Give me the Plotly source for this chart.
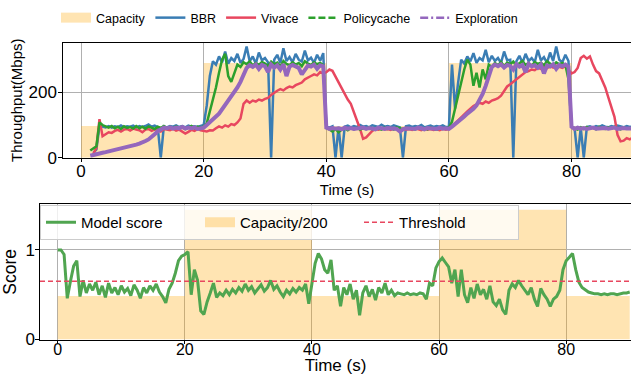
import numpy as np
import plotly.graph_objects as go

# ---------------- data ----------------
time_s = np.arange(181) * 0.5  # sample times 0..90 s

cap_t = [0, 20, 40, 60, 80, 90]
cap_v = [97, 290, 97, 290, 97, 97]

bbr = [None, None, None, None, 15, 25, 98, 95, 93, 97, 92, 96, 94, 99, 93, 96, 95, 98, 92, 97,
       94, 97, 102, 95, 98, 94, 0, 96, 93, 97, 95, 99, 94, 97, 93, 98, 95, 96, 94, 97,
       100, 160, 250, 295, 285, 310, 292, 325, 288, 305, 296, 318, 290, 302, 340, 295, 310, 288, 322, 298,
       305, 292, 0, 300, 315, 290, 335, 296, 308, 292, 318, 300, 294, 328, 298, 306, 290, 315, 297, 320,
       95, 92, 96, 0, 94, 0, 95, 98, 93, 97, 94, 100, 95, 97, 93, 99, 96, 94, 101, 95,
       97, 94, 99, 95, 93, 0, 96, 98, 94, 97, 95, 100, 93, 96, 98, 94, 97, 95, 99, 94,
       95, 285, 150, 230, 300, 288, 310, 295, 320, 290, 305, 298, 330, 292, 312, 296, 305, 290, 325, 298,
       300, 0, 295, 312, 290, 318, 296, 305, 292, 330, 298, 308, 290, 322, 296, 340, 300, 292, 315, 296,
       95, 90, 0, 92, 0, 94, 96, 92, 97, 94, 99, 95, 93, 97, 94, 98, 95, 93, 97, 94, 96]

vivace = [None, None, None, None, 12, 30, 118, 66, 72, 78, 76, 82, 85, 80, 86, 88, 83, 89, 86, 84,
          78, 86, 88, 82, 87, 85, 80, 88, 86, 84, 89, 83, 86, 80, 74, 79, 85, 82, 88, 84,
          82, 80, 84, 83, 90, 96, 92, 99, 95, 103, 100, 108, 120, 165, 175, 168, 175, 172, 178, 175,
          180, 183, 192, 200, 205, 210, 206, 213, 218, 215, 222, 226, 230, 240, 246, 250, 255, 252, 262, 258,
          262, 270, 266, 248, 232, 212, 195, 178, 165, 140, 115, 88, 58, 62, 72, 82, 88, 86, 90, 87,
          88, 85, 90, 87, 84, 89, 86, 88, 85, 90, 87, 84, 89, 86, 88, 85, 87, 84, 89, 86,
          88, 95, 105, 115, 125, 135, 142, 150, 158, 163, 168, 165, 172, 168, 175, 178, 182, 190, 205, 218,
          225, 232, 240, 248, 255, 262, 265, 270, 268, 275, 272, 278, 274, 280, 276, 282, 278, 275, 280, 270,
          258, 262, 275, 305, 312, 303, 310, 285, 265, 258, 235, 215, 185, 155, 125, 70, 50, 52, 60, 56, 62]

policycache = [None, None, None, 22, 28, 35, 108, 100, 96, 92, 97, 90, 95, 88, 96, 91, 94, 89, 97, 90,
               95, 89, 96, 92, 88, 95, 91, 97, 90, 94, 89, 96, 92, 95, 88, 93, 97, 90, 95, 92,
               96, 105, 140, 180, 215, 260, 300, 318, 250, 232, 262, 285, 278, 292, 286, 295, 282, 290, 284, 293,
               288, 281, 294, 286, 291, 279, 296, 287, 283, 292, 285, 290, 280, 295, 288, 284, 292, 286, 290, 283,
               92, 85, 80, 88, 78, 86, 90, 84, 91, 87, 92, 86, 90, 88, 93, 87, 91, 89, 86, 92,
               88, 91, 86, 93, 89, 87, 92, 88, 90, 86, 93, 88, 91, 87, 92, 89, 86, 91, 88, 90,
               92, 110, 150, 190, 225, 270, 300, 285, 220, 260, 215, 270, 240, 285, 278, 290, 283, 293, 280, 291,
               286, 294, 282, 289, 296, 284, 290, 281, 293, 287, 291, 283, 295, 288, 282, 292, 286, 290, 284, 240,
               95, 90, 86, 93, 88, 94, 89, 92, 87, 95, 90, 88, 93, 89, 94, 90, 87, 93, 89, 91, 88]

exploration = [None, None, None, 6, 9, 11, 13, 15, 17, 19, 21, 23, 25, 27, 30, 32, 35, 37, 40, 43,
               46, 51, 56, 63, 72, 81, 88, 92, 90, 93, 89, 92, 90, 94, 89, 92, 90, 93, 88, 91,
               92, 100, 110, 118, 126, 135, 148, 160, 172, 186, 200, 215, 232, 255, 275, 283, 278, 285, 272, 284,
               280, 262, 285, 276, 283, 270, 286, 250, 279, 284, 281, 275, 255, 268, 282, 279, 285, 272, 283, 280,
               92, 88, 91, 89, 90, 87, 92, 89, 91, 88, 90, 89, 92, 88, 91, 89, 87, 92, 90, 88,
               91, 89, 90, 88, 80, 87, 90, 91, 89, 88, 92, 90, 87, 91, 89, 90, 88, 92, 89, 90,
               88, 95, 102, 110, 118, 126, 135, 142, 150, 160, 175, 195, 220, 250, 278, 285, 280, 286, 276, 284,
               281, 270, 286, 279, 284, 262, 287, 280, 283, 275, 285, 258, 282, 279, 286, 272, 284, 280, 285, 278,
               95, 88, 92, 89, 91, 88, 90, 92, 89, 90, 88, 91, 89, 90, 92, 88, 90, 91, 89, 90, 89]

model_score = [1.0, 1.0, 0.95, 0.46, 0.65, 0.82, 0.88, 0.48, 0.66, 0.52, 0.62, 0.55, 0.64, 0.5, 0.6, 0.47, 0.63, 0.52, 0.58, 0.5,
               0.60, 0.53, 0.57, 0.49, 0.61, 0.55, 0.46, 0.58, 0.52, 0.60, 0.55, 0.62, 0.53, 0.48, 0.41, 0.56, 0.63, 0.74, 0.88, 0.93,
               0.95, 0.98, 0.50, 0.78, 0.66, 0.32, 0.28, 0.42, 0.52, 0.63, 0.47, 0.52, 0.49, 0.55, 0.50, 0.56, 0.52, 0.58, 0.54, 0.62,
               0.55, 0.59, 0.52, 0.57, 0.61, 0.54, 0.58, 0.66, 0.56, 0.60, 0.53, 0.48, 0.55, 0.51, 0.57, 0.53, 0.58, 0.55, 0.62, 0.40,
               0.63, 0.85, 0.96, 0.90, 0.78, 0.74, 0.89, 0.55, 0.60, 0.37, 0.58, 0.50, 0.62, 0.45, 0.55, 0.27, 0.52, 0.60, 0.48, 0.56,
               0.44, 0.58, 0.52, 0.63, 0.50, 0.55, 0.49, 0.52, 0.51, 0.50, 0.52, 0.50, 0.51, 0.50, 0.52, 0.51, 0.45, 0.63, 0.60, 0.80,
               0.87, 0.91, 0.86, 0.81, 0.63, 0.78, 0.48, 0.78, 0.50, 0.41, 0.58, 0.46, 0.62, 0.50, 0.56, 0.45, 0.60, 0.42, 0.38, 0.45,
               0.33, 0.28, 0.55, 0.62, 0.58, 0.66, 0.60, 0.55, 0.50, 0.58, 0.45, 0.37, 0.57, 0.50, 0.45, 0.37, 0.45, 0.48, 0.55, 0.78,
               0.88, 0.92, 0.96, 0.78, 0.64, 0.58, 0.55, 0.53, 0.52, 0.51, 0.51, 0.50, 0.51, 0.50, 0.51, 0.51, 0.50, 0.51, 0.52, 0.52, 0.53]

threshold = 0.65
cap_scaled = [v / 200 for v in cap_v]

top_xticks = [0, 20, 40, 60, 80]
top_yticks = [0, 200]
bot_yticks = [0, 1]

# ---------------- style ----------------
FONT = "Liberation Sans, Arial, sans-serif"
FILL = "rgba(255,165,0,0.3)"
C_BBR = "#3a7db4"
C_VIV = "#e8475f"
C_PC = "#2ca02c"
C_EX = "#9467bd"
C_SCORE = "#50a550"
GRID = "#b0b0b0"

W, H = 631, 375

fig = go.Figure()

# top panel
fig.add_trace(go.Scatter(x=cap_t, y=cap_v, mode="lines", line=dict(width=0, shape="hv"),
                         fill="tozeroy", fillcolor=FILL, showlegend=False, hoverinfo="skip",
                         xaxis="x", yaxis="y"))
for vals, col, lw in [(bbr, C_BBR, 2.5), (vivace, C_VIV, 2.5), (policycache, C_PC, 2.5),
                      (exploration, C_EX, 4)]:
    fig.add_trace(go.Scatter(x=time_s, y=vals, mode="lines", line=dict(color=col, width=lw),
                             showlegend=False, xaxis="x", yaxis="y"))

# top legend entries
for name, col, lw, dash in [("Capacity", FILL, 14, "solid"), ("BBR", C_BBR, 2.5, "solid"),
                            ("Vivace", C_VIV, 2.5, "solid"), ("Policycache", C_PC, 2.5, "7px,3px"),
                            ("Exploration", C_EX, 2.5, "8px,3px,2px,3px")]:
    fig.add_trace(go.Scatter(x=[None], y=[None], mode="lines", name=name,
                             line=dict(color=col, width=lw, dash=dash),
                             legend="legend", xaxis="x", yaxis="y"))

# bottom panel
fig.add_trace(go.Scatter(x=cap_t, y=cap_scaled, mode="lines", line=dict(width=0, shape="hv"),
                         fill="tozeroy", fillcolor=FILL, showlegend=False, hoverinfo="skip",
                         xaxis="x2", yaxis="y2"))
fig.add_trace(go.Scatter(x=time_s, y=model_score, mode="lines", line=dict(color=C_SCORE, width=3),
                         showlegend=False, xaxis="x2", yaxis="y2"))
fig.add_shape(type="line", xref="x2 domain", yref="y2", x0=0, x1=1, y0=threshold, y1=threshold,
              line=dict(color=C_VIV, width=1.5, dash="5px,3px"), layer="above")

for name, col, lw, dash in [("Model score", C_SCORE, 3, "solid"), ("Capacity/200", FILL, 14, "solid"),
                            ("Threshold", C_VIV, 1.5, "5px,3px")]:
    fig.add_trace(go.Scatter(x=[None], y=[None], mode="lines", name=name,
                             line=dict(color=col, width=lw, dash=dash),
                             legend="legend2", xaxis="x2", yaxis="y2"))

axis_common = dict(showgrid=True, gridcolor=GRID, gridwidth=1, zeroline=False,
                   showline=True, linecolor="black", linewidth=1.3,
                   ticks="outside", ticklen=3.5, tickwidth=1, tickcolor="black",
                   automargin=False)

fig.update_layout(
    width=W, height=H,
    margin=dict(l=0, r=0, t=0, b=0),
    paper_bgcolor="white", plot_bgcolor="white",
    font=dict(family=FONT, color="black"),
    xaxis=dict(domain=[63 / W, 1], anchor="y", range=[-2.95, 89.7], tickvals=top_xticks,
               mirror=True, tickfont=dict(size=17), ticklabelstandoff=-6,
               title=dict(text="Time (s)", font=dict(size=15), standoff=0), **axis_common),
    yaxis=dict(domain=[1 - 157.7 / H, 1 - 42.7 / H], anchor="x", range=[0, 352], tickvals=top_yticks,
               mirror=False, tickfont=dict(size=17), ticklabelstandoff=-2,
               title=dict(text="Throughput(Mbps)", font=dict(size=15), standoff=2), **axis_common),
    xaxis2=dict(domain=[40 / W, 1], anchor="y2", range=[-2.79, 90.2], tickvals=top_xticks,
                mirror=True, tickfont=dict(size=16), ticklabelstandoff=-8,
                title=dict(text="Time (s)", font=dict(size=17), standoff=5), **axis_common),
    yaxis2=dict(domain=[1 - 339.5 / H, 1 - 204.3 / H], anchor="x2", range=[0, 1.51], tickvals=bot_yticks,
                mirror=False, tickfont=dict(size=17), ticklabelstandoff=-3,
                title=dict(text="Score", font=dict(size=17.5), standoff=6), **axis_common),
    legend=dict(orientation="h", x=56 / W, y=1 - 18 / H, xanchor="left", yanchor="middle",
                font=dict(size=12.5), bgcolor="rgba(0,0,0,0)", itemwidth=30),
    legend2=dict(orientation="h", x=40 / W, y=1 - 205 / H, xanchor="left", yanchor="top",
                 font=dict(size=15), bgcolor="rgba(255,255,255,0.8)", bordercolor="#cccccc",
                 borderwidth=1, itemwidth=30, entrywidth=114, entrywidthmode="pixels"),
)

fig.write_html("out.html", config={"displayModeBar": False},
               post_script="document.body.style.margin='0px';document.body.style.padding='0px';")
